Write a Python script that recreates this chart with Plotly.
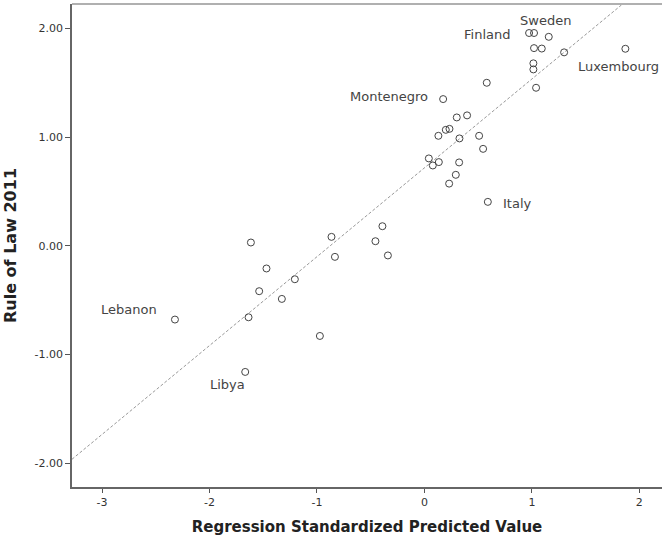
import plotly.graph_objects as go

# Regression standardized predicted value (x) and Rule of Law 2011 (y)
countries = ["Finland", "Sweden", "", "", "", "", "Luxembourg", "", "", "", "",
             "Montenegro", "", "", "", "", "", "", "", "", "", "", "", "", "", "",
             "Italy", "", "", "", "", "", "", "", "", "", "", "", "",
             "Lebanon", "Libya"]
pred_x = [0.974, 1.020, 1.157, 1.020, 1.092, 1.300, 1.870, 1.014, 1.014, 0.580, 1.039,
          0.174, 0.301, 0.397, 0.199, 0.233, 0.130, 0.326, 0.509, 0.546, 0.041, 0.134,
          0.078, 0.323, 0.292, 0.230, 0.590, -1.615, -1.470, -1.538, -1.327, -1.206,
          -1.637, -0.973, -0.865, -0.833, -0.456, -0.391, -0.340, -2.322, -1.668]
rule_of_law = [1.959, 1.959, 1.924, 1.820, 1.816, 1.781, 1.814, 1.680, 1.624, 1.501, 1.455,
               1.351, 1.182, 1.201, 1.068, 1.077, 1.013, 0.989, 1.013, 0.893, 0.805, 0.771,
               0.740, 0.768, 0.654, 0.573, 0.405, 0.031, -0.208, -0.417, -0.488, -0.307,
               -0.657, -0.829, 0.083, -0.101, 0.043, 0.181, -0.088, -0.678, -1.160]

fit_intercept = 0.718
fit_slope = 0.8176

x_range = [-3.28, 2.211]
y_range = [-2.219, 2.226]
x_ticks = [-3, -2, -1, 0, 1, 2]
x_ticklabels = ["-3", "-2", "-1", "0", "1", "2"]
y_ticks = [-2, -1, 0, 1, 2]
y_ticklabels = ["-2.00", "-1.00", "0.00", "1.00", "2.00"]

# label placement offsets (pixels) relative to labeled points
label_style = {
    "Finland": dict(xanchor="right", xshift=-17, yshift=-1),
    "Sweden": dict(xanchor="center", xshift=11, yshift=13),
    "Luxembourg": dict(xanchor="left", xshift=-49, yshift=-18),
    "Montenegro": dict(xanchor="right", xshift=-13, yshift=3),
    "Italy": dict(xanchor="left", xshift=13, yshift=-2),
    "Lebanon": dict(xanchor="right", xshift=-16, yshift=10),
    "Libya": dict(xanchor="right", xshift=2, yshift=-13),
}

fig = go.Figure()

line_x = list(x_range)
line_y = [fit_intercept + fit_slope * v for v in line_x]
fig.add_trace(go.Scatter(x=line_x, y=line_y, mode="lines",
                         line=dict(color="#999999", width=1, dash="3px,2px"),
                         hoverinfo="skip", showlegend=False))

fig.add_trace(go.Scatter(x=pred_x, y=rule_of_law, mode="markers",
                         marker=dict(symbol="circle-open", size=7, color="#444444",
                                     line=dict(color="#444444", width=1)),
                         showlegend=False))

annotations = []
for name, xv, yv in zip(countries, pred_x, rule_of_law):
    if name:
        s = label_style[name]
        annotations.append(dict(x=xv, y=yv, xref="x", yref="y", text=name,
                                showarrow=False, xanchor=s["xanchor"], yanchor="middle",
                                xshift=s["xshift"], yshift=s["yshift"],
                                font=dict(family="DejaVu Sans", size=13, color="#444444")))

fig.update_layout(
    width=662, height=538,
    margin=dict(l=72, r=0, t=4, b=51),
    paper_bgcolor="white", plot_bgcolor="white",
    annotations=annotations,
    shapes=[dict(type="line", xref="paper", yref="paper", x0=0, x1=1, y0=1, y1=1,
                 line=dict(color="#b0b0b0", width=2))],
    font=dict(family="DejaVu Sans", color="#333333"),
)

fig.update_xaxes(range=x_range, tickvals=x_ticks, ticktext=x_ticklabels,
                 ticks="outside", ticklen=4,
                 tickcolor="#555555", showline=True, linecolor="#666666", linewidth=1.5,
                 showgrid=False, zeroline=False,
                 tickfont=dict(family="DejaVu Sans", size=11, color="#333333"),
                 title=dict(text="<b>Regression Standardized Predicted Value</b>",
                            font=dict(family="DejaVu Sans", size=15, color="#222222"),
                            standoff=14))
fig.update_yaxes(range=y_range, tickvals=y_ticks, ticktext=y_ticklabels,
                 ticks="outside", ticklen=5,
                 tickcolor="#555555", showline=True, linecolor="#666666", linewidth=1.5,
                 showgrid=False, zeroline=False,
                 tickfont=dict(family="DejaVu Sans", size=11, color="#333333"),
                 title=dict(text="<b>Rule of Law 2011</b>",
                            font=dict(family="DejaVu Sans", size=16, color="#222222"),
                            standoff=14))

fig.write_html("out.html", config={"displayModeBar": False},
               post_script="document.body.style.margin='0';")
